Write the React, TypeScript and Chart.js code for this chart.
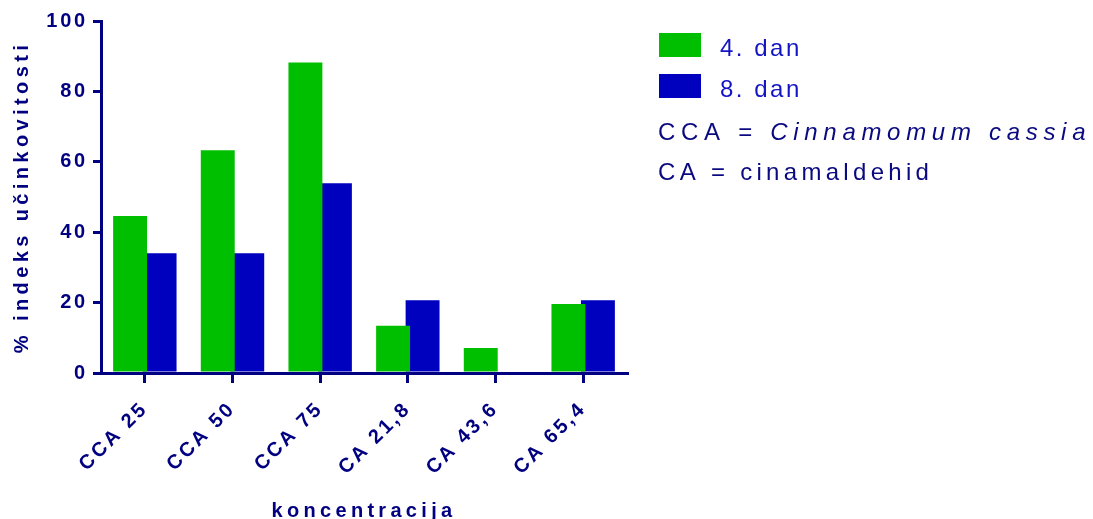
import React, { useEffect, useRef } from "react";
import { Chart, registerables } from "chart.js";

Chart.register(...registerables);

const categories = ["CCA 25", "CCA 50", "CCA 75", "CA 21,8", "CA 43,6", "CA 65,4"];
const day4 = [44.6, 63.3, 88.2, 13.4, 7.1, 19.6];
const day8 = [34.0, 34.0, 53.9, 20.7, 0, 20.7];
const seriesLabels = ["4. dan", "8. dan"];
const seriesColors = ["#00BF00", "#0000BF"];
const yTicks = [0, 20, 40, 60, 80, 100];
const xTitle = "koncentracija";
const yTitle = "% indeks učinkovitosti";

const NAVY = "#000080";
const FONT = "'Liberation Sans', Arial, sans-serif";

const spacingPlugin = {
  id: "spacing",
  beforeUpdate(chart: any) {
    chart.ctx.letterSpacing = "2.8px";
  },
  beforeDraw(chart: any) {
    chart.ctx.letterSpacing = "2.8px";
  },
};

const textPlugin = {
  id: "customText",
  afterDraw(chart: any) {
    const ctx = chart.ctx as CanvasRenderingContext2D;
    const area = chart.chartArea;
    ctx.save();
    // axis titles
    ctx.fillStyle = NAVY;
    ctx.font = `bold 20px ${FONT}`;
    (ctx as any).letterSpacing = "4.3px";
    ctx.textAlign = "center";
    ctx.textBaseline = "alphabetic";
    ctx.fillText(xTitle, (area.left + area.right) / 2, 517);
    ctx.save();
    ctx.translate(22, (area.top + area.bottom) / 2);
    ctx.rotate(-Math.PI / 2);
    ctx.textBaseline = "middle";
    (ctx as any).letterSpacing = "4.4px";
    ctx.fillText(yTitle, 0, 0);
    ctx.restore();

    // legend
    chart.data.datasets.forEach((ds: any, i: number) => {
      ctx.fillStyle = ds.backgroundColor;
      ctx.fillRect(659, 33 + i * 41, 42, 24);
      (ctx as any).letterSpacing = "2.5px";
      ctx.font = `24px ${FONT}`;
      ctx.fillStyle = "#1414C4";
      ctx.textBaseline = "alphabetic";
      ctx.textAlign = "left";
      ctx.fillText(ds.label, 720, 56 + i * 41);
    });
    (ctx as any).letterSpacing = "5.7px";
    ctx.fillStyle = "#0A0A80";
    ctx.font = `24px ${FONT}`;
    const a = "CCA = ";
    ctx.fillText(a, 658, 140);
    const w = ctx.measureText(a).width;
    ctx.font = `italic 24px ${FONT}`;
    ctx.fillText("Cinnamomum cassia", 658 + w, 140);
    (ctx as any).letterSpacing = "4.3px";
    ctx.font = `24px ${FONT}`;
    ctx.fillText("CA = cinamaldehid", 658, 180);
    ctx.restore();
  },
};

export default function App() {
  const ref = useRef<HTMLCanvasElement>(null);
  useEffect(() => {
    if (!ref.current) return;
    const chart = new Chart(ref.current, {
      type: "bar",
      data: {
        labels: categories,
        datasets: [
          { label: seriesLabels[0], data: day4, backgroundColor: seriesColors[0], borderWidth: 0 },
          { label: seriesLabels[1], data: day8, backgroundColor: seriesColors[1], borderWidth: 0 },
        ],
      },
      options: {
        responsive: false,
        animation: false,
        events: [],
        datasets: { bar: { categoryPercentage: 0.673, barPercentage: 1.15 } },
        layout: { padding: { left: 0, right: 466, top: 21, bottom: 0 } },
        plugins: { legend: { display: false }, tooltip: { enabled: false } },
        scales: {
          x: {
            grid: { offset: false, drawOnChartArea: false, drawTicks: true, tickLength: 10, color: NAVY, lineWidth: 3 },
            border: { color: NAVY, width: 3 },
            ticks: {
              autoSkip: false,
              minRotation: 45,
              maxRotation: 45,
              color: NAVY,
              padding: 14,
              font: { family: FONT, size: 20, weight: "bold" },
            },
            afterFit: (s: any) => {
              s.height = 146;
            },
          },
          y: {
            min: 0,
            max: 100,
            afterBuildTicks: (s: any) => {
              s.ticks = yTicks.map((v) => ({ value: v }));
            },
            grid: { drawOnChartArea: false, drawTicks: true, tickLength: 8, color: NAVY, lineWidth: 3 },
            border: { color: NAVY, width: 3 },
            ticks: {
              color: NAVY,
              padding: 5,
              font: { family: FONT, size: 20, weight: "bold" },
            },
            afterFit: (s: any) => {
              s.width = 101;
            },
          },
        },
      },
      plugins: [spacingPlugin, textPlugin],
    } as any);
    return () => chart.destroy();
  }, []);
  return (
    <div style={{ position: "absolute", left: 0, top: 0, width: 1093, height: 519, background: "#fff" }}>
      <canvas ref={ref} width={1093} height={519} />
    </div>
  );
}
